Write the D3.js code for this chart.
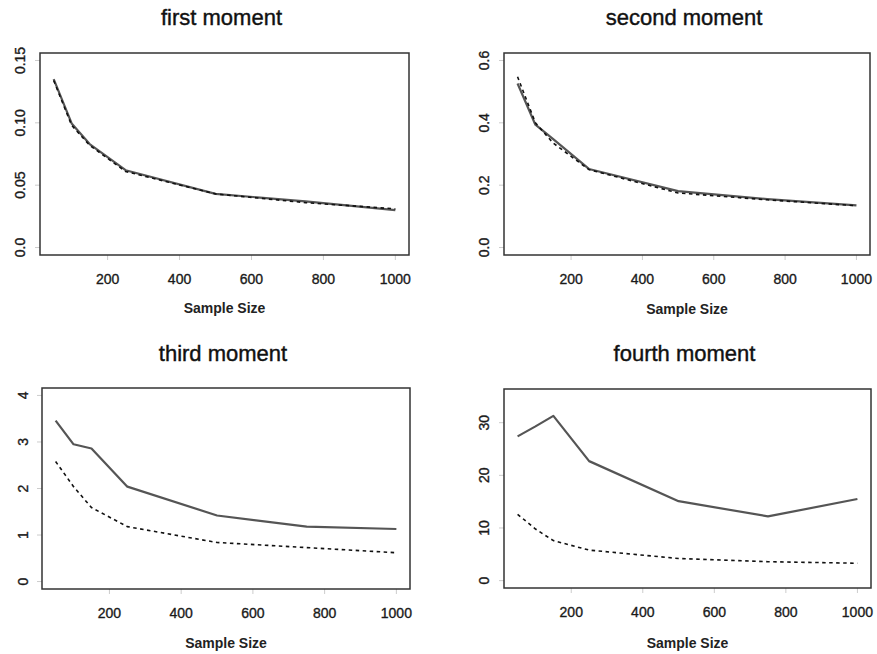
<!DOCTYPE html>
<html>
<head>
<meta charset="utf-8">
<script src="https://cdn.jsdelivr.net/npm/d3@7"></script>
<style>
  body { margin: 0; background: #fff; }
  svg { display: block; font-family: "Liberation Sans", Arial, sans-serif; }
</style>
</head>
<body>
<svg id="chart" width="877" height="654"></svg>
<script>
// sample sizes shared by all four panels
const sampleSizes = [50, 100, 150, 250, 500, 750, 1000]
const xTicks = [200, 400, 600, 800, 1000]

// first moment
const firstSolid = [0.135, 0.0995, 0.083, 0.062, 0.043, 0.037, 0.030]
const firstDashed = [0.134, 0.098, 0.082, 0.061, 0.043, 0.036, 0.031]
const firstTicks = [0, 0.05, 0.10, 0.15]
const firstTickLabels = ['0.0', '0.05', '0.10', '0.15']

// second moment
const secondSolid = [0.526, 0.394, 0.348, 0.252, 0.181, 0.155, 0.135]
const secondDashed = [0.548, 0.400, 0.335, 0.250, 0.175, 0.153, 0.134]
const secondTicks = [0, 0.2, 0.4, 0.6]
const secondTickLabels = ['0.0', '0.2', '0.4', '0.6']

// third moment
const thirdSolid = [3.46, 2.95, 2.86, 2.04, 1.42, 1.18, 1.13]
const thirdDashed = [2.58, 2.04, 1.59, 1.18, 0.84, 0.73, 0.62]
const thirdTicks = [0, 1, 2, 3, 4]
const thirdTickLabels = ['0', '1', '2', '3', '4']

// fourth moment
const fourthSolid = [27.4, 29.3, 31.3, 22.7, 15.1, 12.2, 15.5]
const fourthDashed = [12.6, 9.8, 7.6, 5.8, 4.2, 3.6, 3.3]
const fourthTicks = [0, 10, 20, 30]
const fourthTickLabels = ['0', '10', '20', '30']

const panels = [
  {title: 'first moment', solid: firstSolid, dashed: firstDashed, ylim: [0, 0.15],
   ticks: firstTicks, labels: firstTickLabels,
   box: {x0: 40, x1: 409, y0: 53, y1: 255}, titleY: 17, xlabY: 308, ylabX: 20},
  {title: 'second moment', solid: secondSolid, dashed: secondDashed, ylim: [0, 0.6],
   ticks: secondTicks, labels: secondTickLabels,
   box: {x0: 504, x1: 870, y0: 53, y1: 255}, titleY: 17, xlabY: 309, ylabX: 484},
  {title: 'third moment', solid: thirdSolid, dashed: thirdDashed, ylim: [0, 4],
   ticks: thirdTicks, labels: thirdTickLabels,
   box: {x0: 42, x1: 410, y0: 388, y1: 589}, titleY: 353, xlabY: 643, ylabX: 23},
  {title: 'fourth moment', solid: fourthSolid, dashed: fourthDashed, ylim: [0, 35],
   ticks: fourthTicks, labels: fourthTickLabels,
   box: {x0: 504, x1: 871, y0: 389, y1: 588}, titleY: 353, xlabY: 643, ylabX: 484},
]

const svg = d3.select('#chart')

// R style 4% padding on each side
function padded ([a, b]) {
  const d = (b - a) * 0.04
  return [a - d, b + d]
}

panels.forEach(p => {
  const b = p.box
  const x = d3.scaleLinear()
    .domain(padded(d3.extent(sampleSizes)))
    .range([b.x0, b.x1])
  const y = d3.scaleLinear()
    .domain(padded(p.ylim))
    .range([b.y1, b.y0])

  const g = svg.append('g')

  // faint tick marks like in the scan
  g.selectAll('line.xt').data(xTicks).join('line')
    .attr('class', 'xt')
    .attr('x1', d => x(d)).attr('x2', d => x(d))
    .attr('y1', b.y1).attr('y2', b.y1 + 5)
    .attr('stroke', '#ccc').attr('stroke-width', 1)
  g.selectAll('line.yt').data(p.ticks).join('line')
    .attr('class', 'yt')
    .attr('x1', b.x0 - 5).attr('x2', b.x0)
    .attr('y1', d => y(d)).attr('y2', d => y(d))
    .attr('stroke', '#ccc').attr('stroke-width', 1)

  g.selectAll('text.xl').data(xTicks).join('text')
    .attr('class', 'xl')
    .attr('x', d => x(d))
    .attr('y', b.y1 + 24)
    .attr('text-anchor', 'middle')
    .attr('dominant-baseline', 'central')
    .attr('font-size', 14)
    .attr('fill', '#1a1a1a')
    .attr('stroke', '#1a1a1a').attr('stroke-width', 0.35)
    .text(d => d)

  g.selectAll('text.yl').data(p.ticks).join('text')
    .attr('class', 'yl')
    .attr('transform', (d, i) => `translate(${p.ylabX}, ${y(d)}) rotate(-90)`)
    .attr('text-anchor', 'middle')
    .attr('dominant-baseline', 'central')
    .attr('font-size', 14)
    .attr('fill', '#1a1a1a')
    .attr('stroke', '#1a1a1a').attr('stroke-width', 0.35)
    .text((d, i) => p.labels[i])

  const line = d3.line()
    .x((d, i) => x(sampleSizes[i]))
    .y(d => y(d))

  g.append('path')
    .attr('d', line(p.solid))
    .attr('fill', 'none')
    .attr('stroke', '#555')
    .attr('stroke-width', 2.2)
    .attr('stroke-linejoin', 'round')

  g.append('path')
    .attr('d', line(p.dashed))
    .attr('fill', 'none')
    .attr('stroke', '#111')
    .attr('stroke-width', 1.6)
    .attr('stroke-dasharray', '3.5,3.5')

  g.append('rect')
    .attr('x', b.x0).attr('y', b.y0)
    .attr('width', b.x1 - b.x0).attr('height', b.y1 - b.y0)
    .attr('fill', 'none')
    .attr('stroke', '#333')
    .attr('stroke-width', 1.5)

  g.append('text')
    .attr('x', (b.x0 + b.x1) / 2 - 3)
    .attr('y', p.titleY)
    .attr('text-anchor', 'middle')
    .attr('dominant-baseline', 'central')
    .attr('font-size', 22)
    .attr('fill', '#111')
    .attr('stroke', '#111').attr('stroke-width', 0.4)
    .text(p.title)

  g.append('text')
    .attr('x', (b.x0 + b.x1) / 2)
    .attr('y', p.xlabY)
    .attr('text-anchor', 'middle')
    .attr('dominant-baseline', 'central')
    .attr('font-size', 14)
    .attr('font-weight', 'bold')
    .attr('fill', '#222')
    .text('Sample Size')
})
</script>
</body>
</html>
